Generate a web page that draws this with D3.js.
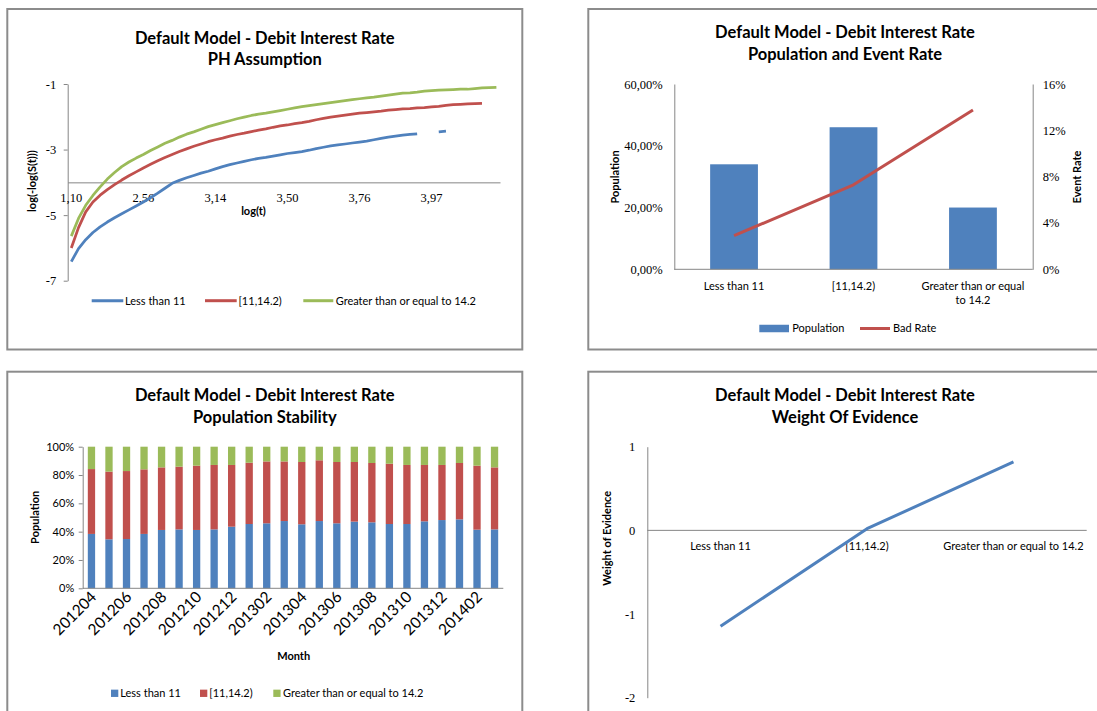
<!DOCTYPE html>
<html>
<head>
<meta charset="utf-8">
<script src="https://cdn.jsdelivr.net/npm/d3@7"></script>
<style>
  html, body { margin: 0; padding: 0; background: #fff; }
  svg { display: block; }
</style>
</head>
<body>
<svg id="chart" width="1097" height="711"></svg>
<script>
// ---------------- data ----------------
const groupNames = ["Less than 11", "[11,14.2)", "Greater than or equal to 14.2"];

// PH assumption: log(t) categories and log(-log(S(t))) per group
const logTimes = [
  1.10, 1.39, 1.61, 1.79, 1.95, 2.08, 2.20, 2.30, 2.40, 2.48,
  2.56, 2.64, 2.71, 2.77, 2.83, 2.89, 2.94, 3.00, 3.04, 3.09,
  3.14, 3.18, 3.22, 3.26, 3.30, 3.33, 3.37, 3.40, 3.43, 3.47,
  3.50, 3.53, 3.56, 3.58, 3.61, 3.64, 3.66, 3.69, 3.71, 3.74,
  3.76, 3.78, 3.81, 3.83, 3.85, 3.87, 3.89, 3.91, 3.93, 3.95,
  3.97, 3.99, 4.01, 4.03, 4.04, 4.06, 4.08, 4.09, 4.11, 4.13
];
const phLessThan11 = [
  -6.42, -6.02, -5.75, -5.53, -5.36, -5.21, -5.08, -4.96, -4.84, -4.72,
  -4.60, -4.47, -4.33, -4.18, -4.03, -3.94, -3.86, -3.79, -3.72, -3.66,
  -3.59, -3.52, -3.46, -3.41, -3.36, -3.31, -3.27, -3.24, -3.20, -3.16,
  -3.12, -3.09, -3.06, -3.02, -2.97, -2.93, -2.89, -2.86, -2.83, -2.80,
  -2.77, -2.74, -2.70, -2.66, -2.62, -2.59, -2.56, -2.54, -2.52, null,
  null, -2.46, -2.44
];
const phMiddle = [
  -6.00, -5.38, -4.90, -4.60, -4.39, -4.22, -4.07, -3.93, -3.80, -3.68,
  -3.56, -3.45, -3.34, -3.24, -3.15, -3.06, -2.98, -2.90, -2.83, -2.76,
  -2.70, -2.65, -2.59, -2.54, -2.50, -2.45, -2.41, -2.37, -2.32, -2.28,
  -2.25, -2.21, -2.18, -2.14, -2.09, -2.05, -2.01, -1.98, -1.95, -1.92,
  -1.89, -1.87, -1.85, -1.83, -1.80, -1.78, -1.76, -1.75, -1.73, -1.72,
  -1.70, -1.68, -1.65, -1.63, -1.62, -1.61, -1.60, -1.59
];
const phAtLeast142 = [
  -5.64, -5.10, -4.70, -4.40, -4.14, -3.90, -3.70, -3.52, -3.38, -3.26,
  -3.15, -3.03, -2.92, -2.81, -2.72, -2.62, -2.53, -2.46, -2.38, -2.30,
  -2.24, -2.18, -2.12, -2.06, -2.01, -1.96, -1.92, -1.89, -1.85, -1.81,
  -1.77, -1.73, -1.69, -1.66, -1.63, -1.60, -1.57, -1.54, -1.51, -1.48,
  -1.45, -1.42, -1.40, -1.37, -1.34, -1.31, -1.28, -1.27, -1.25, -1.22,
  -1.20, -1.19, -1.18, -1.17, -1.16, -1.16, -1.14, -1.12, -1.11, -1.10
];
const phTicks = [-7, -5, -3, -1];
const phCrossing = -4;
const phLabelEvery = 10;

// Population and event rate per group
const populationShare = [0.34, 0.46, 0.20];
const badRate = [0.029, 0.073, 0.1375];
const populationTicks = [0, 0.2, 0.4, 0.6];
const eventRateTicks = [0, 0.04, 0.08, 0.12, 0.16];

// Population stability by month (percent of each month)
const months = [
  "201204", "201205", "201206", "201207", "201208", "201209", "201210", "201211",
  "201212", "201301", "201302", "201303", "201304", "201305", "201306", "201307",
  "201308", "201309", "201310", "201311", "201312", "201401", "201402", "201403"
];
const stabLessThan11 = [
  38.4, 34.6, 34.8, 38.4, 41.2, 41.6, 41.2, 41.6, 43.5, 45.4, 45.9, 47.5,
  45.2, 47.5, 45.9, 47.1, 46.6, 45.4, 45.4, 47.3, 48.2, 48.7, 41.4, 41.6
];
const stabMiddle = [
  45.8, 47.8, 48.0, 45.6, 44.2, 44.3, 45.4, 45.5, 43.6, 43.3, 43.7, 42.1,
  44.0, 42.9, 43.3, 42.1, 41.9, 42.6, 41.7, 39.8, 38.9, 39.8, 45.2, 43.8
];
const stabAtLeast142 = [
  15.8, 17.6, 17.2, 16.0, 14.6, 14.1, 13.4, 12.9, 12.9, 11.3, 10.4, 10.4,
  10.8, 9.6, 10.8, 10.8, 11.5, 12.0, 12.9, 12.9, 12.9, 11.5, 13.4, 14.6
];
const stabilityTicks = [0, 20, 40, 60, 80, 100];

// Weight of evidence per group
const woeValues = [-1.146, 0.02, 0.818];
const woeTicks = [-2, -1, 0, 1];

// ---------------- styling ----------------
const colors = ["#4F81BD", "#C0504D", "#9BBB59"];
const SANS = "Lato, 'Open Sans', sans-serif";
const SERIF = "'Liberation Serif', 'DejaVu Serif', serif";
const AXIS_COLOR = "#868686";
const FRAME_COLOR = "#8c8c8c";
const TITLE_LINE1 = "Default Model - Debit Interest Rate";

const svg = d3.select("#chart");
svg.append("rect").attr("width", 1097).attr("height", 711).attr("fill", "#fff");

function frame(x, y, w, h) {
  svg.append("rect")
    .attr("x", x).attr("y", y).attr("width", w).attr("height", h)
    .attr("fill", "none").attr("stroke", FRAME_COLOR).attr("stroke-width", 2);
}

function title(cx, y, lines) {
  lines.forEach((t, i) => {
    svg.append("text")
      .attr("x", cx).attr("y", y + i * 21.5)
      .attr("text-anchor", "middle")
      .attr("font-family", SANS).attr("font-weight", 700).attr("font-size", 16.5)
      .attr("fill", "#000")
      .text(t);
  });
}

function verticalTitle(x, cy, t) {
  svg.append("text")
    .attr("transform", `translate(${x},${cy}) rotate(-90)`)
    .attr("text-anchor", "middle").attr("dy", "0.35em")
    .attr("font-family", SANS).attr("font-weight", 700).attr("font-size", 11)
    .attr("fill", "#000")
    .text(t);
}

function styleAxis(g, family, size) {
  g.attr("font-family", family).attr("font-size", size);
  g.select(".domain").attr("stroke", AXIS_COLOR);
  g.selectAll(".tick line").attr("stroke", AXIS_COLOR);
  g.selectAll(".tick text").attr("fill", "#000");
}

function hLine(x1, x2, y) {
  svg.append("line").attr("x1", x1).attr("x2", x2).attr("y1", y).attr("y2", y)
    .attr("stroke", AXIS_COLOR).attr("stroke-width", 1);
}

function legendText(x, cy, t) {
  svg.append("text").attr("x", x).attr("y", cy).attr("dy", "0.35em")
    .attr("font-family", SANS).attr("font-size", 11).attr("fill", "#000").text(t);
}
function legendLine(x1, x2, cy, color) {
  svg.append("line").attr("x1", x1).attr("x2", x2).attr("y1", cy).attr("y2", cy)
    .attr("stroke", color).attr("stroke-width", 3);
}
function legendSwatch(x, cy, w, h, color) {
  svg.append("rect").attr("x", x).attr("y", cy - h / 2).attr("width", w).attr("height", h)
    .attr("fill", color);
}

const commaDecimal = f => v => f(v).replace(".", ",");
const plainInt = v => String(v);   // keeps an ASCII hyphen for negatives

// ================= PH Assumption (top left) =================
frame(7.3, 9, 515, 340.5);
title(264.8, 43.5, [TITLE_LINE1, "PH Assumption"]);
{
  const x = d3.scaleBand().domain(d3.range(logTimes.length)).range([67.7, 500]);
  const y = d3.scaleLinear().domain([-7, -1]).range([280.7, 84]);

  const yAxis = svg.append("g").attr("transform", "translate(67.7,0)")
    .call(d3.axisLeft(y).tickValues(phTicks).tickSize(4).tickSizeOuter(0).tickPadding(7.5)
      .tickFormat(plainInt));
  styleAxis(yAxis, SERIF, 12.5);

  const labelIdx = d3.range(0, logTimes.length, phLabelEvery);
  const xAxis = svg.append("g").attr("transform", `translate(0,${y(phCrossing)})`)
    .call(d3.axisBottom(x).tickValues(labelIdx).tickSize(0).tickSizeOuter(0).tickPadding(11)
      .tickFormat(i => commaDecimal(d3.format(".2f"))(logTimes[i])));
  styleAxis(xAxis, SERIF, 12.5);

  svg.append("text").attr("x", 253.5).attr("y", 215)
    .attr("text-anchor", "middle").attr("font-family", SANS).attr("font-weight", 700)
    .attr("font-size", 11).text("log(t)");
  verticalTitle(31.7, 181, "log(-log(S(t)))");

  const line = d3.line()
    .defined(v => v != null)
    .x((v, i) => x(i) + x.bandwidth() / 2)
    .y(v => y(v));
  [phLessThan11, phMiddle, phAtLeast142].forEach((series, k) => {
    svg.append("path").datum(series)
      .attr("d", line).attr("fill", "none")
      .attr("stroke", colors[k]).attr("stroke-width", 2.75)
      .attr("stroke-linejoin", "round");
  });

  const legY = 300.7;
  legendLine(91.7, 123.3, legY, colors[0]); legendText(125, legY, groupNames[0]);
  legendLine(205, 236.7, legY, colors[1]); legendText(238.5, legY, groupNames[1]);
  legendLine(303.3, 333.3, legY, colors[2]); legendText(335.7, legY, groupNames[2]);
}

// ================= Population and Event Rate (top right) =================
frame(588.3, 9, 520, 340.5);
title(845, 38.3, [TITLE_LINE1, "Population and Event Rate"]);
{
  const x = d3.scaleBand().domain(groupNames).range([674.3, 1032.7])
    .paddingInner(0.6).paddingOuter(0.3);
  const yL = d3.scaleLinear().domain([0, 0.6]).range([269.3, 84]);
  const yR = d3.scaleLinear().domain([0, 0.16]).range([269.3, 84]);

  svg.append("g").selectAll("rect").data(populationShare).join("rect")
    .attr("x", (d, i) => x(groupNames[i]))
    .attr("y", d => yL(d))
    .attr("width", x.bandwidth())
    .attr("height", d => yL(0) - yL(d))
    .attr("fill", colors[0]);

  const left = svg.append("g").attr("transform", "translate(674.3,0)")
    .call(d3.axisLeft(yL).tickValues(populationTicks).tickSize(0).tickSizeOuter(0).tickPadding(11.6)
      .tickFormat(commaDecimal(d3.format(".2%"))));
  styleAxis(left, SERIF, 12.5);
  const right = svg.append("g").attr("transform", "translate(1032.7,0)")
    .call(d3.axisRight(yR).tickValues(eventRateTicks).tickSize(0).tickSizeOuter(0).tickPadding(10)
      .tickFormat(d3.format(".0%")));
  styleAxis(right, SERIF, 12.5);
  hLine(674.3, 1032.7, yL(0));

  // wrapped category labels
  groupNames.forEach(name => {
    const cx = x(name) + x.bandwidth() / 2;
    const t = svg.append("text").attr("x", cx).attr("y", 290)
      .attr("text-anchor", "middle").attr("font-family", SANS).attr("font-size", 11)
      .attr("fill", "#000");
    const words = name.split(" ");
    const maxW = x.step() * 0.9;
    let lineWords = [];
    let tspan = t.append("tspan").attr("x", cx).attr("dy", 0);
    words.forEach(w => {
      lineWords.push(w);
      tspan.text(lineWords.join(" "));
      if (tspan.node().getComputedTextLength() > maxW && lineWords.length > 1) {
        lineWords.pop();
        tspan.text(lineWords.join(" "));
        lineWords = [w];
        tspan = t.append("tspan").attr("x", cx).attr("dy", 14).text(w);
      }
    });
  });

  const line = d3.line()
    .x((d, i) => x(groupNames[i]) + x.bandwidth() / 2)
    .y(d => yR(d));
  svg.append("path").datum(badRate).attr("d", line)
    .attr("fill", "none").attr("stroke", colors[1]).attr("stroke-width", 3)
    .attr("stroke-linejoin", "round");

  verticalTitle(615, 177, "Population");
  verticalTitle(1077.3, 177, "Event Rate");

  const legY = 328.5;
  legendSwatch(759.3, legY, 29.7, 7.5, colors[0]); legendText(792.3, legY, "Population");
  legendLine(860, 890, legY, colors[1]); legendText(893, legY, "Bad Rate");
}

// ================= Population Stability (bottom left) =================
frame(7.3, 371.7, 515, 360);
title(264.8, 401, [TITLE_LINE1, "Population Stability"]);
{
  const rows = months.map((m, i) => ({
    month: m, less: stabLessThan11[i], mid: stabMiddle[i], high: stabAtLeast142[i]
  }));
  const keys = ["less", "mid", "high"];
  const stacked = d3.stack().keys(keys)(rows);

  const x = d3.scaleBand().domain(months).range([82.7, 503.3])
    .paddingInner(0.583).paddingOuter(0.2915);
  const y = d3.scaleLinear().domain([0, 100]).range([588.3, 446.7]);

  stacked.forEach((layer, k) => {
    svg.append("g").selectAll("rect").data(layer).join("rect")
      .attr("x", d => x(d.data.month))
      .attr("y", d => y(d[1]))
      .attr("width", x.bandwidth())
      .attr("height", d => y(d[0]) - y(d[1]))
      .attr("fill", colors[k]);
  });

  const yAxis = svg.append("g").attr("transform", "translate(82.7,0)")
    .call(d3.axisLeft(y).tickValues(stabilityTicks).tickSize(4).tickSizeOuter(0).tickPadding(4.5)
      .tickFormat(d => d + "%"));
  styleAxis(yAxis, SANS, 11);
  hLine(82.7, 503.3, y(0));

  months.forEach((m, i) => {
    if (i % 2 !== 0) return;
    const cx = x(m) + x.bandwidth() / 2;
    svg.append("text")
      .attr("transform", `translate(${cx + 6},${598}) rotate(-45)`)
      .attr("text-anchor", "end")
      .attr("font-family", SANS).attr("font-size", 15.5).attr("fill", "#000")
      .text(m);
  });

  svg.append("text").attr("x", 293.7).attr("y", 660)
    .attr("text-anchor", "middle").attr("font-family", SANS).attr("font-weight", 700)
    .attr("font-size", 11).text("Month");
  verticalTitle(35, 517.3, "Population");

  const legY = 693.3;
  legendSwatch(111, legY, 7.3, 7.3, colors[0]); legendText(120.3, legY, groupNames[0]);
  legendSwatch(200, legY, 7.3, 7.3, colors[1]); legendText(209.3, legY, groupNames[1]);
  legendSwatch(273.3, legY, 7.3, 7.3, colors[2]); legendText(283, legY, groupNames[2]);
}

// ================= Weight Of Evidence (bottom right) =================
frame(588.3, 371.7, 520, 360);
title(845, 401, [TITLE_LINE1, "Weight Of Evidence"]);
{
  const x = d3.scaleBand().domain(groupNames).range([647.3, 1086.7]);
  const y = d3.scaleLinear().domain([-2, 1]).range([697.7, 446.7]);

  const yAxis = svg.append("g").attr("transform", "translate(647.3,0)")
    .call(d3.axisLeft(y).tickValues(woeTicks).tickSize(0).tickSizeOuter(0).tickPadding(12)
      .tickFormat(plainInt));
  styleAxis(yAxis, SERIF, 12.5);
  hLine(647.3, 1086.7, y(0));

  groupNames.forEach(name => {
    svg.append("text").attr("x", x(name) + x.bandwidth() / 2).attr("y", y(0) + 20)
      .attr("text-anchor", "middle").attr("font-family", SANS).attr("font-size", 11)
      .attr("fill", "#000").text(name);
  });

  const line = d3.line()
    .x((d, i) => x(groupNames[i]) + x.bandwidth() / 2)
    .y(d => y(d));
  svg.append("path").datum(woeValues).attr("d", line)
    .attr("fill", "none").attr("stroke", colors[0]).attr("stroke-width", 3)
    .attr("stroke-linejoin", "round");

  verticalTitle(606.7, 538.3, "Weight of Evidence");
}
</script>
</body>
</html>
